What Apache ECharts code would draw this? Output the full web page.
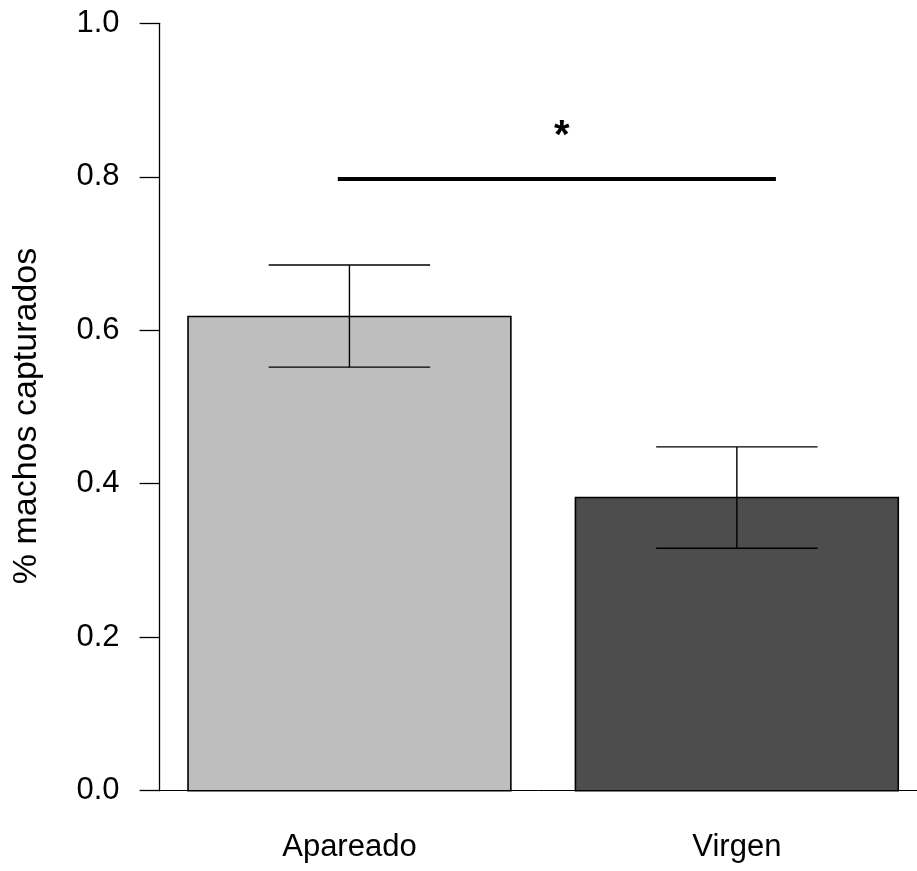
<!DOCTYPE html>
<html>
<head>
<meta charset="utf-8">
<script src="https://cdn.jsdelivr.net/npm/echarts@6/dist/echarts.min.js"></script>
<style>
  html, body { margin: 0; padding: 0; background: #fff; }
  #chart { width: 917px; height: 871px; }
</style>
</head>
<body>
<div id="chart"></div>
<script>
// ---- data ----
const categories = ['Apareado', 'Virgen'];
const means = [0.618, 0.382];
const lower = [0.552, 0.316];
const upper = [0.685, 0.448];
const barColors = ['#BEBEBE', '#4D4D4D'];
const yTicks = [0.0, 0.2, 0.4, 0.6, 0.8, 1.0];
const yLabel = '% machos capturados';
const sigLine = [[0.664, 0.797], [2.021, 0.797]];
const sigText = ['*'];
const sigPos = [[1.358, 0.852]];

// ---- layout helpers (R barplot style: width 1, space 0.2) ----
const BAR_W = 1, SPACE = 0.2;
function center(i) { return SPACE + BAR_W / 2 + i * (BAR_W + SPACE); }
const xMin = 0.112;
const xMax = 2.458;

const FONT = "'Liberation Sans', Arial, Helvetica, sans-serif";
const chart = echarts.init(document.getElementById('chart'), null, { renderer: 'canvas' });

chart.setOption({
  animation: false,
  backgroundColor: '#ffffff',
  grid: { left: 159.6, top: 23.3, right: 0, height: 767.4, containLabel: false },
  xAxis: {
    type: 'value',
    min: xMin,
    max: xMax,
    splitLine: { show: false },
    axisLine: { show: true, onZero: true, lineStyle: { color: '#000', width: 1 } },
    axisTick: { show: false },
    axisLabel: {
      customValues: categories.map((c, i) => center(i)),
      formatter: function (v) {
        for (let i = 0; i < categories.length; i++) {
          if (Math.abs(center(i) - v) < 1e-6) return categories[i];
        }
        return '';
      },
      margin: 41,
      fontSize: 31,
      color: '#000',
      fontFamily: FONT
    }
  },
  yAxis: {
    type: 'value',
    min: 0,
    max: 1,
    interval: 0.2,
    name: yLabel,
    nameLocation: 'middle',
    nameGap: 116,
    nameTextStyle: { fontSize: 34, color: '#000', fontFamily: FONT, padding: [0, 18, 0, 0] },
    splitLine: { show: false },
    axisLine: { show: true, lineStyle: { color: '#000', width: 1.3 } },
    axisTick: { show: true, inside: false, length: 20, lineStyle: { color: '#000', width: 1.3 } },
    axisLabel: {
      margin: 40,
      fontSize: 31,
      color: '#000',
      fontFamily: FONT,
      formatter: function (v) { return v.toFixed(1); }
    }
  },
  series: [
    {
      type: 'custom',
      z: 2,
      data: means.map((m, i) => [i, m]),
      encode: { y: 1 },
      renderItem: function (params, api) {
        const i = api.value(0);
        const x = center(i);
        const p0 = api.coord([x - BAR_W / 2, 0]);
        const p1 = api.coord([x + BAR_W / 2, api.value(1)]);
        return {
          type: 'rect',
          shape: { x: p0[0], y: p1[1], width: p1[0] - p0[0], height: p0[1] - p1[1] },
          style: { fill: barColors[i], stroke: '#000', lineWidth: 1.6 }
        };
      }
    },
    {
      type: 'custom',
      z: 3,
      data: means.map((m, i) => [i, lower[i], upper[i]]),
      encode: { y: [1, 2] },
      renderItem: function (params, api) {
        const i = api.value(0);
        const x = center(i);
        const lo = api.coord([x, api.value(1)]);
        const hi = api.coord([x, api.value(2)]);
        const l = api.coord([x - BAR_W / 4, 0])[0];
        const r = api.coord([x + BAR_W / 4, 0])[0];
        const st = { stroke: '#000', lineWidth: 1.4 };
        return {
          type: 'group',
          children: [
            { type: 'line', shape: { x1: lo[0], y1: lo[1], x2: hi[0], y2: hi[1] }, style: st },
            { type: 'line', shape: { x1: l, y1: lo[1], x2: r, y2: lo[1] }, style: st },
            { type: 'line', shape: { x1: l, y1: hi[1], x2: r, y2: hi[1] }, style: st }
          ]
        };
      }
    },
    {
      type: 'line',
      z: 4,
      data: sigLine,
      symbol: 'none',
      lineStyle: { color: '#000', width: 4 }
    },
    {
      type: 'custom',
      z: 5,
      data: sigPos.map((p, k) => [p[0], p[1], k]),
      renderItem: function (params, api) {
        const p = api.coord([api.value(0), api.value(1)]);
        return {
          type: 'text',
          x: p[0],
          y: p[1],
          style: {
            text: sigText[api.value(2)],
            fontSize: 40,
            fontWeight: 'bold',
            fontFamily: FONT,
            fill: '#000',
            align: 'center',
            verticalAlign: 'middle'
          }
        };
      }
    }
  ]
});
</script>
</body>
</html>
